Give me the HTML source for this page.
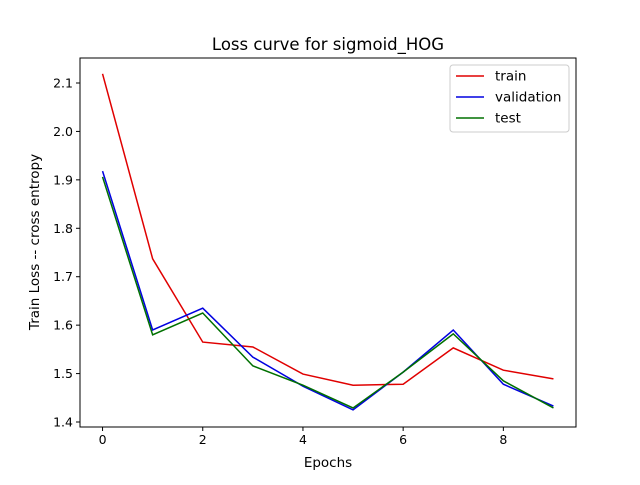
<!DOCTYPE html>
<html><head><meta charset="utf-8"><style>body{margin:0;background:#fff}svg{font-family:"DejaVu Sans","Liberation Sans",sans-serif}</style></head>
<body>
<svg id="chart" width="640" height="480" xmlns="http://www.w3.org/2000/svg"></svg>
<script>
const epochs=[0,1,2,3,4,5,6,7,8,9];
const trainLoss=[2.119,1.737,1.565,1.555,1.499,1.476,1.478,1.553,1.507,1.489];
const valLoss=[1.918,1.590,1.635,1.534,1.474,1.425,1.503,1.590,1.478,1.433];
const testLoss=[1.906,1.580,1.625,1.516,1.476,1.429,1.503,1.582,1.485,1.429];
const xTicks=[0,2,4,6,8];
const yTicks=[1.4,1.5,1.6,1.7,1.8,1.9,2.0,2.1];
const L=80,R=576,T=58,B=427,xmin=-0.45,xmax=9.45,ymin=1.3897,ymax=2.1516;
const X=v=>L+(v-xmin)/(xmax-xmin)*(R-L);
const Y=v=>B-(v-ymin)/(ymax-ymin)*(B-T);
const svg=document.getElementById('chart');const NS='http://www.w3.org/2000/svg';
function mk(t,a,txt){const e=document.createElementNS(NS,t);for(const k in a)e.setAttribute(k,a[k]);if(txt!==undefined)e.textContent=txt;svg.appendChild(e);return e;}
let e;
e=mk('rect',{x:L,y:T,width:R-L,height:B-T,fill:'none',stroke:'#000','stroke-width':1});


xTicks.forEach(t=>{const x=X(t);
e=mk('line',{x1:x,x2:x,y1:B,y2:B+4,stroke:'#000'});


e=mk('text',{x:x,y:B+17,'font-size':12.5,'text-anchor':'middle'},String(t));

});
yTicks.forEach(t=>{const y=Y(t);
e=mk('line',{x1:L-4,x2:L,y1:y,y2:y,stroke:'#000'});


e=mk('text',{x:L-7,y:y+4.5,'font-size':12.5,'text-anchor':'end'},t.toFixed(1));

});
const series=[[trainLoss,'#e00000','train'],[valLoss,'#0000e0','validation'],[testLoss,'#007000','test']];
series.forEach(([d,c,n])=>{
e=mk('polyline',{points:d.map((v,i)=>X(epochs[i])+','+Y(v)).join(' '),fill:'none',stroke:c,'stroke-width':1.5});

});
e=mk('text',{x:328,y:50,'font-size':16.5,'text-anchor':'middle'},'Loss curve for sigmoid_HOG');


e=mk('text',{x:328,y:467,'font-size':13.5,'text-anchor':'middle'},'Epochs');


e=mk('text',{x:39,y:242,'font-size':13.5,'text-anchor':'middle',transform:'rotate(-90 39 242)'},'Train Loss -- cross entropy');


e=mk('rect',{x:450,y:65,width:119,height:67,rx:3,fill:'#fff',stroke:'#ccc'});


series.forEach(([d,c,n],i)=>{const y=76+i*21;
e=mk('line',{x1:456,x2:484,y1:y,y2:y,stroke:c,'stroke-width':1.5});


e=mk('text',{x:495,y:y+4.5,'font-size':13.5},n);

});
</script>
</body></html>
